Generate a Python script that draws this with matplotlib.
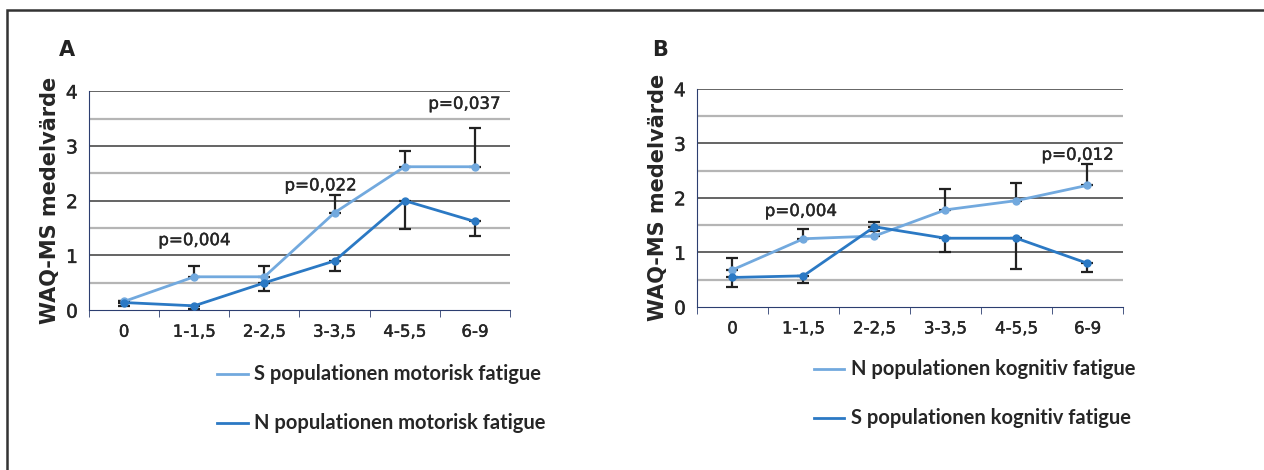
import matplotlib.pyplot as plt
import matplotlib.patheffects as pe
from matplotlib.lines import Line2D
from matplotlib.patches import Rectangle

# Categories (years since diagnosis groups)
categories = ["0", "1-1,5", "2-2,5", "3-3,5", "4-5,5", "6-9"]

# Panel A: motor fatigue
a_light_label = "S populationen motorisk fatigue"
a_light = [0.16, 0.61, 0.61, 1.78, 2.62, 2.62]
a_light_upper = [0.16, 0.80, 0.80, 2.10, 2.91, 3.33]
a_dark_label = "N populationen motorisk fatigue"
a_dark = [0.14, 0.08, 0.50, 0.90, 2.00, 1.62]
a_dark_lower = [0.07, 0.02, 0.35, 0.71, 1.49, 1.35]
a_pvals = ["p=0,004", "p=0,022", "p=0,037"]
a_pval_pos = [(1.0, 1.28), (2.8, 2.28), (4.85, 3.77)]

# Panel B: cognitive fatigue
b_light_label = "N populationen kognitiv fatigue"
b_light = [0.68, 1.25, 1.30, 1.78, 1.95, 2.23]
b_light_upper = [0.89, 1.43, 1.39, 2.17, 2.28, 2.62]
b_dark_label = "S populationen kognitiv fatigue"
b_dark = [0.54, 0.57, 1.47, 1.26, 1.26, 0.80]
b_dark_upper = [0.54, 0.57, 1.55, 1.26, 1.26, 0.80]
b_dark_lower = [0.37, 0.43, 1.47, 1.00, 0.70, 0.64]
b_pvals = ["p=0,004", "p=0,012"]
b_pval_pos = [(0.96, 1.76), (4.86, 2.79)]

LIGHT = "#72a9de"
DARK = "#2b79c4"
TXT = "#262626"
SPINE = "#2c3e70"
THICK = [pe.withStroke(linewidth=0.3, foreground=TXT)]


def draw_panel(fig, rect, letter, letter_x, light, light_err, dark, dark_err,
               pvals, pval_pos, labels, legend_x, legend_y):
    """Draw one panel with gridlines, error bars, p-values and legend"""
    axis = fig.add_axes(rect)
    xs = range(len(categories))

    # Gridlines: dark at integers, lighter at halves
    for yv in [0.5, 1.5, 2.5, 3.5]:
        axis.axhline(yv, color="#b5b5b5", lw=1.6, zorder=0)
    for yv in [1, 2, 3, 4]:
        axis.axhline(yv, color="#4a4a4a", lw=1.2, zorder=0)

    # One-sided error bars
    axis.errorbar(xs, light, yerr=light_err, fmt="none", ecolor="#222222",
                  elinewidth=1.6, capsize=4.5, capthick=1.6, zorder=2)
    axis.errorbar(xs, dark, yerr=dark_err, fmt="none", ecolor="#222222",
                  elinewidth=1.6, capsize=4.5, capthick=1.6, zorder=2)

    axis.plot(xs, light, "-o", color=LIGHT, lw=2, ms=5, zorder=3)
    axis.plot(xs, dark, "-o", color=DARK, lw=2, ms=5, zorder=4)

    for txt, (px, py) in zip(pvals, pval_pos):
        axis.text(px, py, txt, ha="center", va="center", fontsize=12,
                  color=TXT, family="DejaVu Sans", path_effects=THICK)

    axis.set_xlim(-0.5, len(categories) - 0.5)
    axis.set_ylim(0, 4)
    axis.set_yticks([0, 1, 2, 3, 4])
    axis.set_xticks(list(xs))
    axis.set_xticklabels(categories)
    axis.set_xticks([i + 0.5 for i in range(-1, len(categories))], minor=True)
    axis.tick_params(axis="x", which="major", length=0, pad=9,
                     labelsize=12, labelcolor=TXT)
    axis.tick_params(axis="x", which="minor", length=5, color=SPINE,
                     direction="out")
    axis.tick_params(axis="y", length=0, pad=8, labelsize=13.5, labelcolor=TXT)
    for lbl in axis.get_xticklabels() + axis.get_yticklabels():
        lbl.set_path_effects(THICK)

    for side in ["top", "right"]:
        axis.spines[side].set_visible(False)
    axis.spines["left"].set_color(SPINE)
    axis.spines["bottom"].set_color(SPINE)
    axis.spines["left"].set_linewidth(0.8)
    axis.spines["bottom"].set_linewidth(0.8)

    axis.set_ylabel("WAQ-MS medelvärde", fontsize=15, fontweight="bold",
                    color=TXT, labelpad=4)

    fig.text(letter_x, 0.893, letter, fontsize=15, fontweight="bold",
             color="#222222", ha="center", va="center")

    # Legend drawn as lines with text below the axes
    for i, (lab, col) in enumerate(zip(labels, [LIGHT, DARK])):
        yy = legend_y - i * 0.105
        fig.add_artist(Line2D([legend_x, legend_x + 0.024], [yy, yy],
                              color=col, lw=2, transform=fig.transFigure))
        fig.text(legend_x + 0.029, yy, lab, fontsize=14.5, fontweight="bold",
                 family="Lato", color=TXT, va="center", ha="left")
    return axis


fig = plt.figure(figsize=(12.64, 4.70), dpi=100)

# Outer frame (top and left visible; right and bottom cropped)
fig.add_artist(Rectangle((0.0055, -0.1), 1.2, 1.079, transform=fig.transFigure,
                         fill=False, edgecolor="#333333", lw=1.8))

draw_panel(fig, [0.0704, 0.340, 0.333, 0.466], "A", 0.053,
           a_light, [[0] * 6, [u - v for u, v in zip(a_light_upper, a_light)]],
           a_dark, [[v - lo for v, lo in zip(a_dark, a_dark_lower)], [0] * 6],
           a_pvals, a_pval_pos, [a_light_label, a_dark_label], 0.172, 0.204)

draw_panel(fig, [0.5514, 0.347, 0.337, 0.464], "B", 0.522,
           b_light, [[0] * 6, [u - v for u, v in zip(b_light_upper, b_light)]],
           b_dark, [[v - lo for v, lo in zip(b_dark, b_dark_lower)],
                    [u - v for u, v in zip(b_dark_upper, b_dark)]],
           b_pvals, b_pval_pos, [b_light_label, b_dark_label], 0.644, 0.215)

fig.savefig("out.png", dpi=100)
